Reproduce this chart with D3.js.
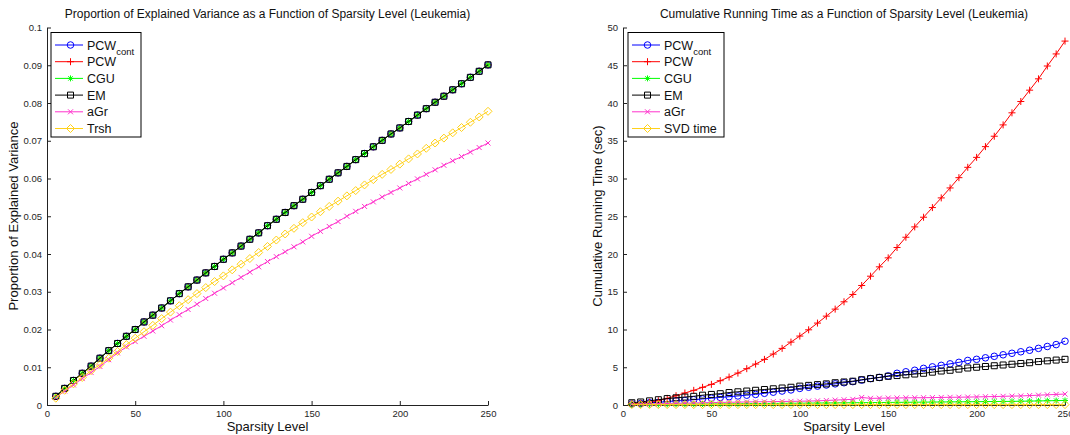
<!DOCTYPE html>
<html lang="en">
<head>
<meta charset="UTF-8">
<title>Sparsity Level (Leukemia)</title>
<script src="https://d3js.org/d3.v7.min.js"></script>
<style>
  body { margin: 0; background: #fff; }
  svg { font-family: "Liberation Sans", Arial, sans-serif; }
  .tick text { fill: #262626; font-size: 9.5px; }
</style>
</head>
<body>
<script>
// sparsity levels (x)
const sparsity = [5, 10, 15, 20, 25, 30, 35, 40, 45, 50, 55, 60, 65, 70, 75, 80, 85, 90, 95, 100,
  105, 110, 115, 120, 125, 130, 135, 140, 145, 150, 155, 160, 165, 170, 175, 180, 185, 190, 195, 200,
  205, 210, 215, 220, 225, 230, 235, 240, 245, 250];

// left panel: proportion of explained variance
const varTop = [0.0023, 0.0044, 0.0065, 0.0084, 0.0103, 0.0124, 0.0144, 0.0163, 0.0182, 0.0200,
  0.0220, 0.0238, 0.0257, 0.0276, 0.0295, 0.0313, 0.0331, 0.0350, 0.0367, 0.0386,
  0.0403, 0.0421, 0.0439, 0.0456, 0.0475, 0.0492, 0.0510, 0.0528, 0.0545, 0.0563,
  0.0581, 0.0598, 0.0615, 0.0632, 0.0650, 0.0666, 0.0684, 0.0701, 0.0718, 0.0734,
  0.0751, 0.0768, 0.0785, 0.0802, 0.0818, 0.0835, 0.0851, 0.0868, 0.0884, 0.0901];
const varPCWcont = varTop, varPCW = varTop, varCGU = varTop, varEM = varTop;
const varAGr = [0.0020, 0.0037, 0.0053, 0.0070, 0.0086, 0.0102, 0.0120, 0.0138, 0.0154, 0.0168,
  0.0182, 0.0196, 0.0210, 0.0225, 0.0239, 0.0253, 0.0267, 0.0282, 0.0296, 0.0310,
  0.0324, 0.0338, 0.0352, 0.0366, 0.0380, 0.0393, 0.0406, 0.0419, 0.0432, 0.0447,
  0.0460, 0.0473, 0.0486, 0.0500, 0.0513, 0.0526, 0.0538, 0.0551, 0.0563, 0.0575,
  0.0587, 0.0599, 0.0611, 0.0623, 0.0635, 0.0647, 0.0658, 0.0670, 0.0682, 0.0694];
const varTrsh = [0.0018, 0.0039, 0.0056, 0.0073, 0.0091, 0.0107, 0.0124, 0.0142, 0.0160, 0.0177,
  0.0194, 0.0211, 0.0229, 0.0246, 0.0263, 0.0279, 0.0295, 0.0311, 0.0327, 0.0342,
  0.0358, 0.0373, 0.0388, 0.0404, 0.0420, 0.0437, 0.0453, 0.0468, 0.0483, 0.0498,
  0.0512, 0.0526, 0.0540, 0.0554, 0.0568, 0.0583, 0.0597, 0.0611, 0.0624, 0.0638,
  0.0652, 0.0665, 0.0680, 0.0694, 0.0707, 0.0721, 0.0735, 0.0749, 0.0763, 0.0778];

// right panel: cumulative running time (sec)
const timePCWcont = [0.15, 0.2, 0.3, 0.35, 0.45, 0.55, 0.6, 0.7, 0.8, 0.9,
  1.0, 1.1, 1.2, 1.3, 1.4, 1.55, 1.7, 1.85, 2.0, 2.2,
  2.35, 2.5, 2.65, 2.8, 2.95, 3.1, 3.3, 3.5, 3.65, 3.85,
  4.2, 4.4, 4.6, 4.85, 5.05, 5.25, 5.45, 5.65, 5.9, 6.05,
  6.25, 6.45, 6.65, 6.85, 7.05, 7.25, 7.5, 7.75, 8.0, 8.45];
const timePCW = [0.18, 0.22, 0.35, 0.57, 0.88, 1.23, 1.59, 1.94, 2.34, 2.73,
  3.22, 3.70, 4.23, 4.81, 5.42, 6.04, 6.75, 7.50, 8.33, 9.13,
  9.96, 10.85, 11.77, 12.70, 13.67, 14.64, 15.83, 17.06, 18.30, 19.49,
  20.86, 22.22, 23.59, 24.87, 26.15, 27.43, 28.75, 30.11, 31.48, 32.80,
  34.22, 35.6, 37.1, 38.7, 40.2, 41.7, 43.2, 44.9, 46.5, 48.2];
const timeCGU = [0.05, 0.06, 0.07, 0.08, 0.09, 0.1, 0.11, 0.12, 0.13, 0.14,
  0.15, 0.16, 0.17, 0.18, 0.19, 0.2, 0.21, 0.22, 0.23, 0.24,
  0.25, 0.26, 0.27, 0.28, 0.29, 0.3, 0.31, 0.32, 0.33, 0.34,
  0.35, 0.36, 0.37, 0.38, 0.39, 0.4, 0.41, 0.42, 0.43, 0.44,
  0.45, 0.46, 0.47, 0.48, 0.5, 0.52, 0.54, 0.56, 0.58, 0.6];
const timeEM = [0.3, 0.4, 0.55, 0.7, 0.85, 0.95, 1.05, 1.15, 1.3, 1.4,
  1.5, 1.65, 1.75, 1.85, 1.95, 2.05, 2.15, 2.25, 2.35, 2.5,
  2.6, 2.7, 2.8, 2.95, 3.05, 3.15, 3.35, 3.5, 3.65, 3.8,
  3.9, 4.0, 4.1, 4.2, 4.35, 4.5, 4.6, 4.75, 4.9, 5.0,
  5.1, 5.2, 5.3, 5.4, 5.5, 5.6, 5.75, 5.85, 5.95, 6.05];
const timeAGr = [0.1, 0.12, 0.15, 0.18, 0.2, 0.22, 0.25, 0.27, 0.3, 0.32,
  0.34, 0.36, 0.38, 0.4, 0.42, 0.43, 0.45, 0.47, 0.48, 0.5,
  0.52, 0.55, 0.6, 0.65, 0.7, 0.75, 1.0, 0.88, 0.9, 0.92,
  0.93, 0.95, 0.96, 0.97, 0.98, 1.0, 1.02, 1.03, 1.05, 1.07,
  1.1, 1.12, 1.15, 1.18, 1.2, 1.25, 1.3, 1.35, 1.4, 1.45];
const timeSVD = [0.05, 0.05, 0.05, 0.05, 0.05, 0.05, 0.05, 0.05, 0.05, 0.05,
  0.05, 0.05, 0.05, 0.05, 0.05, 0.05, 0.05, 0.05, 0.05, 0.05,
  0.05, 0.05, 0.05, 0.05, 0.05, 0.05, 0.05, 0.05, 0.05, 0.05,
  0.05, 0.05, 0.05, 0.05, 0.05, 0.05, 0.05, 0.05, 0.05, 0.05,
  0.05, 0.05, 0.05, 0.05, 0.05, 0.05, 0.05, 0.05, 0.05, 0.05];

// tick labels
const xTicks = [0, 50, 100, 150, 200, 250];
const leftYTicks = [0, 0.01, 0.02, 0.03, 0.04, 0.05, 0.06, 0.07, 0.08, 0.09, 0.1];
const rightYTicks = [0, 5, 10, 15, 20, 25, 30, 35, 40, 45, 50];

const W = 1070, H = 435;
const svg = d3.select('body').append('svg').attr('width', W).attr('height', H);

// marker shapes, MATLAB style
const markerPath = {
  o: d3.symbol().type(d3.symbolCircle).size(34)(),
  plus: 'M-3.5,0H3.5M0,-3.5V3.5',
  star: 'M-3,0H3M0,-3V3M-2.2,-2.2L2.2,2.2M-2.2,2.2L2.2,-2.2',
  s: 'M-3,-3H3V3H-3Z',
  x: 'M-2.5,-2.5L2.5,2.5M-2.5,2.5L2.5,-2.5',
  d: 'M0,-4L4,0L0,4L-4,0Z'
};

function drawPanel(cfg) {
  const g = svg.append('g');
  const x = d3.scaleLinear().domain([0, 250]).range(cfg.xr);
  const y = d3.scaleLinear().domain(cfg.yDomain).range([405, 27.5]);

  // axes with inward ticks
  g.append('g')
    .attr('transform', 'translate(0,' + y(cfg.yDomain[0]) + ')')
    .call(d3.axisBottom(x).tickValues(xTicks).tickSizeInner(-4).tickSizeOuter(0).tickPadding(5).tickFormat(d3.format('d')))
    .call(a => a.select('.domain').attr('stroke', '#222'))
    .call(a => a.selectAll('.tick line').attr('stroke', '#222'));
  g.append('g')
    .attr('transform', 'translate(' + x(0) + ',0)')
    .call(d3.axisLeft(y).tickValues(cfg.yTicks).tickSizeInner(-4).tickSizeOuter(0).tickPadding(5).tickFormat(cfg.yFormat))
    .call(a => a.select('.domain').attr('stroke', '#222'))
    .call(a => a.selectAll('.tick line').attr('stroke', '#222'));

  const line = d3.line().x((d, i) => x(sparsity[i])).y(d => y(d));

  cfg.series.forEach(s => {
    g.append('path')
      .attr('d', line(s.values))
      .attr('fill', 'none')
      .attr('stroke', s.color)
      .attr('stroke-width', 1);
    g.selectAll(null)
      .data(s.values)
      .enter()
      .append('path')
      .attr('transform', (d, i) => 'translate(' + x(sparsity[i]) + ',' + y(d) + ')')
      .attr('d', markerPath[s.marker])
      .attr('fill', s.fill || 'none')
      .attr('stroke', s.color)
      .attr('stroke-width', 1);
  });

  // titles and labels
  const cx = (cfg.xr[0] + cfg.xr[1]) / 2;
  g.append('text').attr('x', cx).attr('y', 18).attr('text-anchor', 'middle')
    .attr('font-size', 12).attr('fill', '#111').text(cfg.title);
  g.append('text').attr('x', cx).attr('y', 431).attr('text-anchor', 'middle')
    .attr('font-size', 13).attr('fill', '#111').text('Sparsity Level');
  g.append('text').attr('transform', 'translate(' + cfg.ylabX + ',216) rotate(-90)')
    .attr('text-anchor', 'middle').attr('font-size', 13).attr('fill', '#111').text(cfg.ylabel);

  // legend
  const lx = cfg.legendX;
  const lg = g.append('g');
  lg.append('rect').attr('x', lx).attr('y', 32.5).attr('width', cfg.legendW).attr('height', 104.5)
    .attr('fill', '#fff').attr('stroke', '#000').attr('stroke-width', 1);
  cfg.series.forEach((s, i) => {
    const ly = 45 + i * 16.7;
    lg.append('line').attr('x1', lx + 4).attr('x2', lx + 32).attr('y1', ly).attr('y2', ly)
      .attr('stroke', s.color).attr('stroke-width', 1);
    lg.append('path').attr('transform', 'translate(' + (lx + 19.5) + ',' + ly + ')')
      .attr('d', markerPath[s.marker]).attr('fill', s.fill || 'none')
      .attr('stroke', s.color).attr('stroke-width', 1);
    const t = lg.append('text').attr('x', lx + 36).attr('y', ly + 4.5)
      .attr('font-size', 12.5).attr('fill', '#111');
    t.append('tspan').text(s.name);
    if (s.sub) t.append('tspan').attr('dy', 5).attr('font-size', 9.5).text(s.sub);
  });
}

drawPanel({
  xr: [47, 488],
  yDomain: [0, 0.1],
  yTicks: leftYTicks,
  yFormat: d => d === 0 ? '0' : d3.format('.2~f')(d),
  title: 'Proportion of Explained Variance as a Function of Sparsity Level (Leukemia)',
  ylabel: 'Proportion of Explained Variance',
  ylabX: 18,
  legendX: 51,
  legendW: 90,
  series: [
    { name: 'PCW', sub: 'cont', values: varPCWcont, color: '#0000ff', marker: 'o' },
    { name: 'PCW', values: varPCW, color: '#ff0000', marker: 'plus' },
    { name: 'CGU', values: varCGU, color: '#00ff00', marker: 'star', fill: '#00cc00' },
    { name: 'EM', values: varEM, color: '#000000', marker: 's' },
    { name: 'aGr', values: varAGr, color: '#ff33cc', marker: 'x' },
    { name: 'Trsh', values: varTrsh, color: '#ffd11a', marker: 'd' }
  ]
});

drawPanel({
  xr: [623, 1065],
  yDomain: [0, 50],
  yTicks: rightYTicks,
  yFormat: d3.format('d'),
  title: 'Cumulative Running Time as a Function of Sparsity Level (Leukemia)',
  ylabel: 'Cumulative Running Time (sec)',
  ylabX: 602,
  legendX: 628,
  legendW: 96,
  series: [
    { name: 'PCW', sub: 'cont', values: timePCWcont, color: '#0000ff', marker: 'o' },
    { name: 'PCW', values: timePCW, color: '#ff0000', marker: 'plus' },
    { name: 'CGU', values: timeCGU, color: '#00ff00', marker: 'star' },
    { name: 'EM', values: timeEM, color: '#000000', marker: 's' },
    { name: 'aGr', values: timeAGr, color: '#ff33cc', marker: 'x' },
    { name: 'SVD time', values: timeSVD, color: '#ffd11a', marker: 'd' }
  ]
});
</script>
</body>
</html>
